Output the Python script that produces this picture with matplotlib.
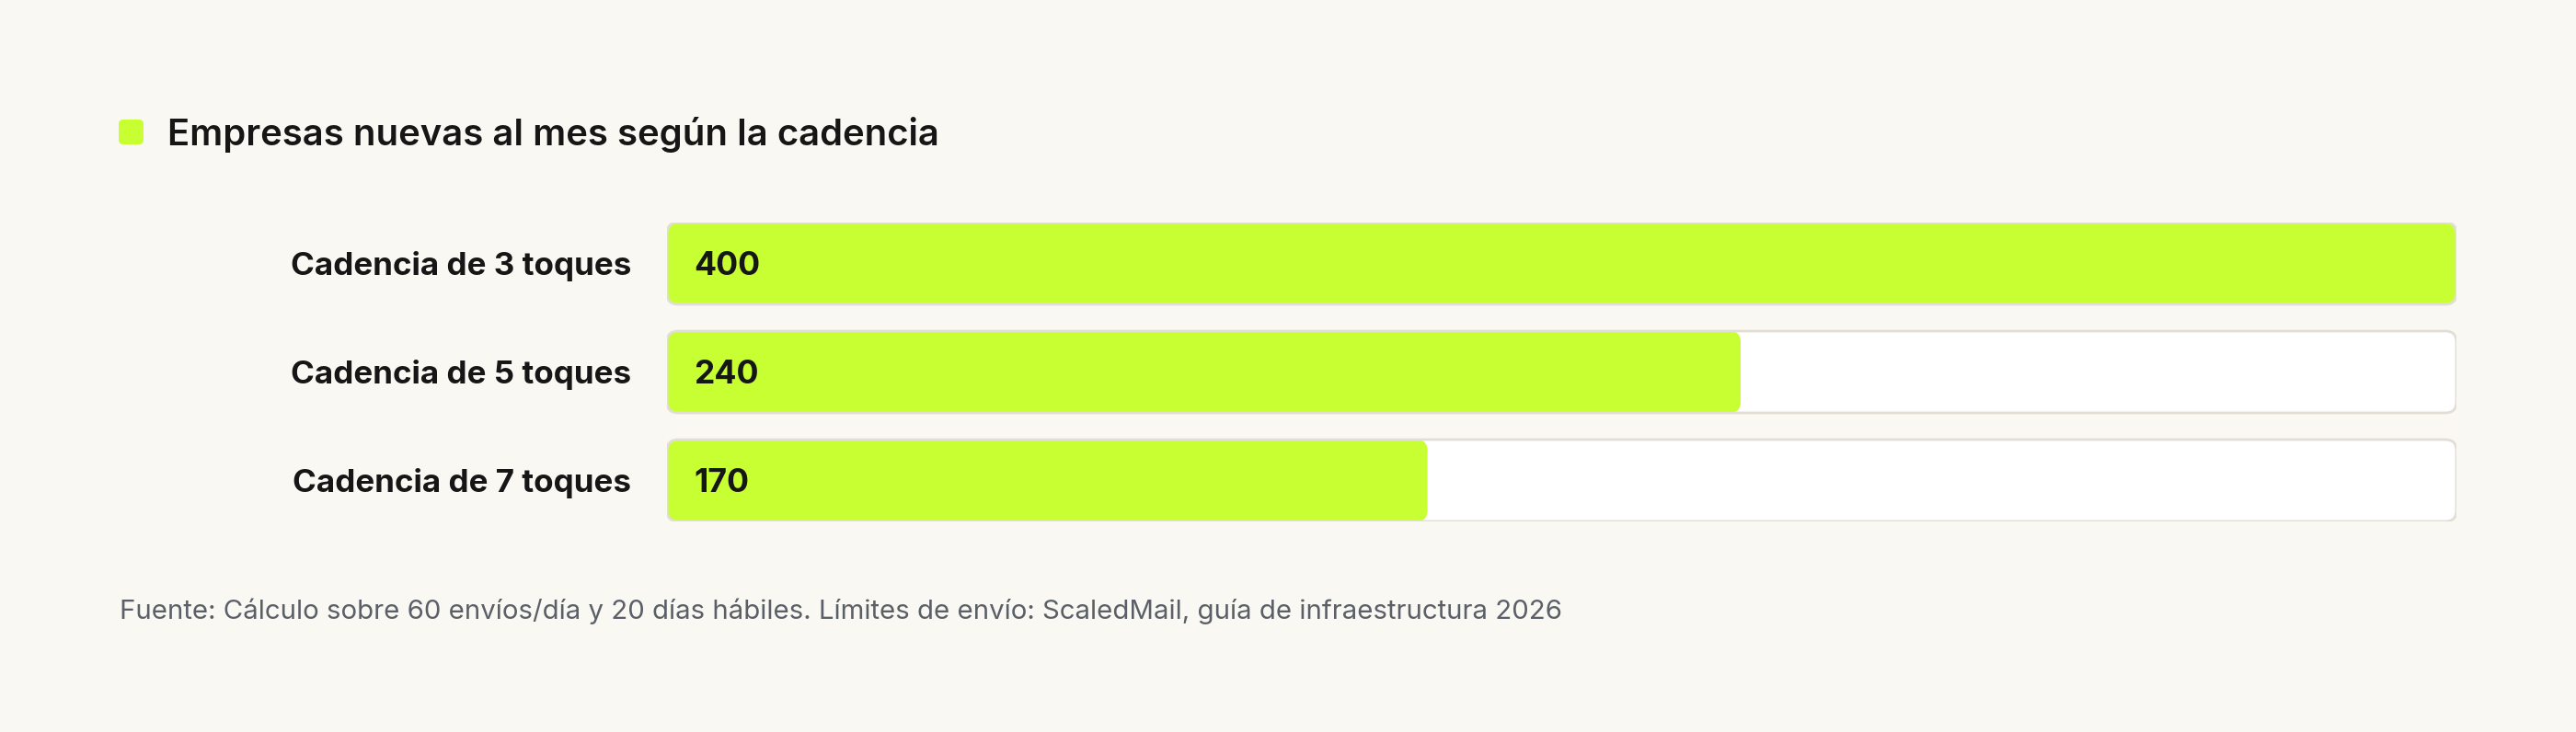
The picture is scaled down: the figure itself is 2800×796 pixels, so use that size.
import matplotlib
matplotlib.use('Agg')
import matplotlib.pyplot as plt
from matplotlib.patches import FancyBboxPatch

# datos
categorias = ['Cadencia de 3 toques', 'Cadencia de 5 toques', 'Cadencia de 7 toques']
empresas = [400, 240, 170]
maximo = 400
titulo = 'Empresas nuevas al mes según la cadencia'
fuente = ('Fuente: Cálculo sobre 60 envíos/día y 20 días hábiles. '
          'Límites de envío: ScaledMail, guía de infraestructura 2026')

FONDO = '#f9f8f3'
VERDE = '#c8ff33'
BORDE = '#e2ded6'
TEXTO = '#161616'
GRIS = '#5b6068'

plt.rcParams['font.family'] = ['Inter', 'DejaVu Sans']

W, H, DPI = 2800, 796, 200
fig = plt.figure(figsize=(W / DPI, H / DPI), dpi=DPI, facecolor=FONDO)


def fx(px):
    return px / W


def fy(py):
    return 1 - py / H


# zona de barras (pixeles)
x0, x1 = 725, 2670
y_top, y_bot = 242, 567
ax = fig.add_axes([fx(x0), fy(y_bot), fx(x1 - x0), (y_bot - y_top) / H])
ax.set_facecolor('none')
n = len(categorias)
alto = 0.754
ax.set_xlim(0, maximo)
ax.set_ylim(n - 1 + alto / 2, -alto / 2)
ax.axis('off')

# aspecto para redondear esquinas
px_x = (x1 - x0) / maximo
px_y = (y_bot - y_top) / (n - 1 + alto)
aspecto = px_x / px_y
radio = 12 / px_x

for i, (cat, v) in enumerate(zip(categorias, empresas)):
    y = i - alto / 2
    pista = FancyBboxPatch((0, y), maximo, alto,
                           boxstyle='round,pad=0,rounding_size=%f' % radio,
                           mutation_aspect=aspecto, facecolor='white',
                           edgecolor='none', zorder=1)
    ax.add_patch(pista)
    barra = FancyBboxPatch((0, y), v, alto,
                           boxstyle='round,pad=0,rounding_size=%f' % radio,
                           mutation_aspect=aspecto, facecolor=VERDE,
                           edgecolor='none', zorder=2)
    ax.add_patch(barra)
    borde = FancyBboxPatch((0, y), maximo, alto,
                           boxstyle='round,pad=0,rounding_size=%f' % radio,
                           mutation_aspect=aspecto, facecolor='none',
                           edgecolor=BORDE, linewidth=1.0, zorder=3)
    ax.add_patch(borde)
    ax.annotate(str(v), (0, i), xytext=(10.5, -1), textcoords='offset points',
                ha='left', va='center', fontsize=12.8, fontweight='bold',
                color=TEXTO, zorder=4)
    ax.annotate(cat, (0, i), xytext=(-14, -1), textcoords='offset points',
                ha='right', va='center', fontsize=12.6, fontweight='bold',
                color=TEXTO, annotation_clip=False)

# titulo con cuadradito
cuadro = FancyBboxPatch((fx(129), fy(157)), fx(27), 27 / H,
                        boxstyle='round,pad=0,rounding_size=%f' % fx(5),
                        mutation_aspect=W / H, transform=fig.transFigure,
                        facecolor=VERDE, edgecolor='none')
fig.patches.append(cuadro)
fig.text(fx(182), fy(158), titulo, ha='left', va='baseline', fontsize=14.4,
         fontweight='semibold', color=TEXTO)

fig.text(fx(130), fy(673), fuente, ha='left', va='baseline', fontsize=10.6,
         color=GRIS)

fig.savefig('out.png', dpi=DPI, facecolor=FONDO)
